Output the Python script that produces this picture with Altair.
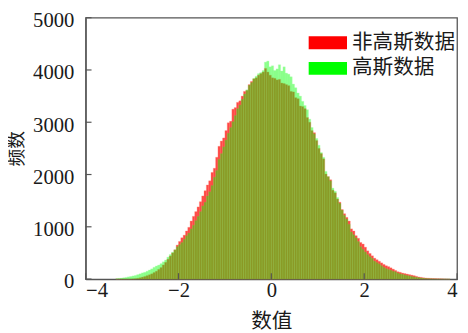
import altair as alt
import pandas as pd

# ---- data (bin width 0.05, first bin starts at -3.35) ----
bin_start = -3.35
bin_width = 0.05

series_names = ["非高斯数据", "高斯数据"]

green_counts = [
    8, 12, 18, 25, 32, 42, 50, 60,
    70, 85, 100, 118, 130, 150, 172, 195,
    225, 250, 268, 295, 330, 365, 420, 470,
    515, 560, 620, 660, 700, 760, 830, 880,
    960, 1030, 1120, 1200, 1290, 1400, 1470, 1590,
    1670, 1790, 1950, 2080, 2290, 2400, 2530, 2660,
    2790, 2900, 3010, 3130, 3260, 3330, 3440, 3540,
    3620, 3710, 3760, 3840, 3880, 3930, 3950, 3990,
    4150, 4170, 4060, 4080, 3990, 4020, 4100, 3980,
    4060, 3940, 3920, 3870, 3730, 3660, 3560, 3500,
    3400, 3320, 3240, 3060, 2900, 2780, 2690, 2560,
    2420, 2330, 2060, 1960, 1880, 1740, 1680, 1560,
    1450, 1320, 1220, 1150, 1050, 900, 850, 790,
    720, 620, 570, 520, 470, 430, 395, 345,
    315, 290, 255, 225, 200, 185, 170, 150,
    140, 115, 100, 92, 80, 70, 60, 52,
    42, 35, 28, 20, 15, 10, 7, 5,
    3, 2, 1, 1, 0, 0, 0, 0,
]

red_counts = [
    0, 0, 0, 0, 0, 0, 0, 3,
    8, 15, 25, 38, 50, 65, 82, 100,
    125, 150, 185, 220, 270, 320, 380, 440,
    500, 560, 650, 720, 790, 840, 920, 990,
    1110, 1200, 1290, 1380, 1480, 1590, 1690, 1800,
    1880, 2040, 2120, 2330, 2540, 2640, 2700, 2840,
    2990, 3020, 3250, 3280, 3380, 3410, 3500, 3590,
    3610, 3720, 3780, 3830, 3850, 3900, 3930, 3960,
    4030, 3960, 3900, 3850, 3840, 3810, 3820, 3750,
    3740, 3720, 3700, 3590, 3580, 3470, 3450, 3310,
    3300, 3260, 3090, 3000, 2840, 2800, 2650, 2500,
    2400, 2300, 2010, 1960, 1900, 1700, 1650, 1530,
    1470, 1330, 1250, 1180, 1110, 960, 920, 830,
    780, 700, 670, 610, 540, 490, 445, 400,
    370, 340, 310, 280, 255, 238, 215, 190,
    165, 140, 130, 115, 105, 95, 85, 75,
    65, 52, 40, 33, 25, 20, 16, 13,
    11, 9, 7, 6, 5, 3, 2, 1,
]

x_ticks = [-4, -2, 0, 2, 4]
y_ticks = [0, 1000, 2000, 3000, 4000, 5000]

# ---- build long table ----
rows = []
for name, counts in ((series_names[0], red_counts), (series_names[1], green_counts)):
    for i, c in enumerate(counts):
        lo = bin_start + i * bin_width
        rows.append({"series": name, "lo": round(lo, 4), "hi": round(lo + bin_width, 4), "count": c})
df = pd.DataFrame(rows)

FONT = "'Liberation Serif', 'Times New Roman', 'Noto Sans CJK SC', serif"
AXIS_COLOR = "#555555"
TEXT_COLOR = "#1a1a1a"
W, H = 378, 266

xs = alt.Scale(domain=[-4, 4], nice=False, zero=False)
ys = alt.Scale(domain=[0, 5000], nice=False)

x_axis = alt.Axis(
    values=x_ticks,
    format="d",
    ticks=False,
    grid=False,
    labelFont=FONT,
    labelFontSize=21,
    labelColor=TEXT_COLOR,
    labelPadding=1,
    domainColor=AXIS_COLOR,
    domainWidth=1.3,
    title="数值",
    titleFont=FONT,
    titleFontSize=21,
    titleFontWeight="normal",
    titleColor=TEXT_COLOR,
    titlePadding=10,
)
y_axis = alt.Axis(
    values=y_ticks,
    format="d",
    ticks=False,
    grid=False,
    labelFont=FONT,
    labelFontSize=21,
    labelColor=TEXT_COLOR,
    labelPadding=12,
    labelOffset=3,
    domainColor=AXIS_COLOR,
    domainWidth=1.3,
    title="频数",
    titleFont=FONT,
    titleFontSize=18,
    titleFontWeight="normal",
    titleColor=TEXT_COLOR,
    titlePadding=6,
)

color = alt.Color(
    "series:N",
    scale=alt.Scale(domain=series_names, range=["#ff0000", "#00ff00"]),
    legend=alt.Legend(
        title=None,
        orient="none",
        legendX=236,
        legendY=15,
        symbolType="M-3,-1H3V1H-3Z",
        symbolSize=169,
        symbolOpacity=1,
        symbolStrokeWidth=0,
        labelFont=FONT,
        labelFontSize=21,
        labelColor=TEXT_COLOR,
        labelOffset=14,
        rowPadding=4,
    ),
)

base = alt.Chart(df)
red = base.transform_filter(alt.datum.series == series_names[0]).mark_rect(
    opacity=0.72, stroke="#ff5a3c", strokeWidth=0.4, strokeOpacity=0.8
).encode(
    x=alt.X("lo:Q", scale=xs, axis=x_axis),
    x2="hi:Q",
    y=alt.Y("count:Q", scale=ys, axis=y_axis),
    y2=alt.datum(0),
    color=color,
)

green = base.transform_filter(alt.datum.series == series_names[1]).mark_rect(
    opacity=0.45, stroke="#4cff4c", strokeWidth=0.4, strokeOpacity=0.8
).encode(
    x=alt.X("lo:Q", scale=xs, axis=x_axis),
    x2="hi:Q",
    y=alt.Y("count:Q", scale=ys, axis=y_axis),
    y2=alt.datum(0),
    color=color,
)

xt = alt.Chart(pd.DataFrame({"v": x_ticks})).mark_rule(color=AXIS_COLOR, strokeWidth=1.2).encode(
    x=alt.X("v:Q", scale=xs, axis=x_axis), y=alt.value(H), y2=alt.value(H - 6)
)
yt = alt.Chart(pd.DataFrame({"v": y_ticks})).mark_rule(color=AXIS_COLOR, strokeWidth=1.2).encode(
    y=alt.Y("v:Q", scale=ys, axis=y_axis), x=alt.value(0), x2=alt.value(6)
)

chart = (
    alt.layer(red, green, xt, yt)
    .properties(
        width=W,
        height=H,
        autosize=alt.AutoSizeParams(type="none"),
        padding={"left": 79, "top": 7, "right": 3, "bottom": 51},
        background="white",
    )
    .configure_view(stroke=AXIS_COLOR, strokeWidth=1.3)
)

chart.save("out.html", embed_options={"renderer": "svg", "actions": False})
